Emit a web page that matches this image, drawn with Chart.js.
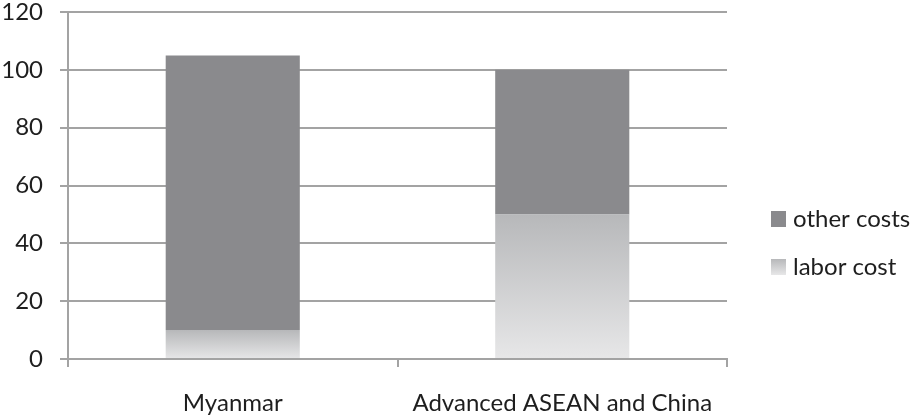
<!DOCTYPE html>
<html>
<head>
<meta charset="utf-8">
<script src="https://cdn.jsdelivr.net/npm/chart.js@4/dist/chart.umd.min.js"></script>
<style>
  html, body { margin: 0; padding: 0; background: #fff; }
  #wrap { width: 912px; height: 416px; }
</style>
</head>
<body>
<div id="wrap"><canvas id="costChart" width="912" height="416"></canvas></div>
<script>
// Chart data
const categories = ["Myanmar", "Advanced ASEAN and China"];
const laborCost = [10, 50];
const otherCosts = [95, 50];
const yTicks = [0, 20, 40, 60, 80, 100, 120];

const FONT = "Lato, 'Open Sans', sans-serif";
const FONT_SIZE = 24;
const TEXT = "#1e1e1e";
const AXIS = "#a3a3a3";
const OTHER = "#8a8a8d";

// labor bars get a vertical gradient per bar, like the original
function laborGradient(ctx, top, bottom) {
  const g = ctx.createLinearGradient(0, top, 0, bottom);
  g.addColorStop(0, "#b7b8ba");
  g.addColorStop(1, "#e7e7e8");
  return g;
}

// legend drawn on the right, below the middle
const sideLegend = {
  id: "sideLegend",
  afterDraw(chart) {
    const ctx = chart.ctx;
    const items = [
      { text: "other costs", fill: OTHER, bottom: 227 },
      { text: "labor cost", fill: null, bottom: 275 },
    ];
    ctx.save();
    ctx.font = FONT_SIZE + "px " + FONT;
    ctx.textBaseline = "alphabetic";
    items.forEach((it) => {
      const top = it.bottom - 16;
      ctx.fillStyle = it.fill || laborGradient(ctx, top, it.bottom);
      ctx.fillRect(771, top, 15, 16);
      ctx.fillStyle = TEXT;
      ctx.fillText(it.text, 793, it.bottom);
    });
    ctx.restore();
  },
};

const ctx = document.getElementById("costChart");
const costChart = new Chart(ctx, {
  type: "bar",
  data: {
    labels: categories,
    datasets: [
      {
        label: "labor cost",
        data: laborCost,
        backgroundColor: (c) => {
          const chart = c.chart;
          const y = chart.scales.y;
          if (!y || c.dataIndex === undefined) return "#d0d0d2";
          const top = y.getPixelForValue(laborCost[c.dataIndex]);
          const bottom = y.getPixelForValue(0);
          if (!isFinite(top) || !isFinite(bottom)) return "#d0d0d2";
          return laborGradient(chart.ctx, top, bottom);
        },
        borderWidth: 0,
      },
      {
        label: "other costs",
        data: otherCosts,
        backgroundColor: OTHER,
        borderWidth: 0,
      },
    ],
  },
  options: {
    responsive: false,
    animation: false,
    layout: { padding: { top: 12, right: 185, left: 0, bottom: 0 } },
    plugins: {
      legend: { display: false },
      tooltip: { enabled: false },
    },
    datasets: {
      bar: { categoryPercentage: 1, barPercentage: 0.407 },
    },
    scales: {
      x: {
        stacked: true,
        afterFit: (scale) => {
          scale.height = 57;
          scale.paddingLeft = 0;
          scale.paddingRight = 0;
        },
        grid: {
          offset: true,
          drawOnChartArea: false,
          drawTicks: true,
          tickLength: 8,
          color: AXIS,
          lineWidth: 2,
        },
        border: { color: AXIS, width: 2 },
        ticks: {
          color: TEXT,
          font: { family: FONT, size: FONT_SIZE },
          padding: 22,
          maxRotation: 0,
        },
      },
      y: {
        stacked: true,
        min: 0,
        max: 120,
        afterBuildTicks: (scale) => {
          scale.ticks = yTicks.map((v) => ({ value: v }));
        },
        afterFit: (scale) => {
          scale.width = 68;
          scale.paddingTop = 0;
          scale.paddingBottom = 0;
        },
        grid: {
          color: AXIS,
          lineWidth: 2,
          tickLength: 8,
        },
        border: { color: AXIS, width: 2 },
        ticks: {
          color: TEXT,
          font: { family: FONT, size: FONT_SIZE },
          padding: 17,
        },
      },
    },
  },
  plugins: [sideLegend],
});
</script>
</body>
</html>
